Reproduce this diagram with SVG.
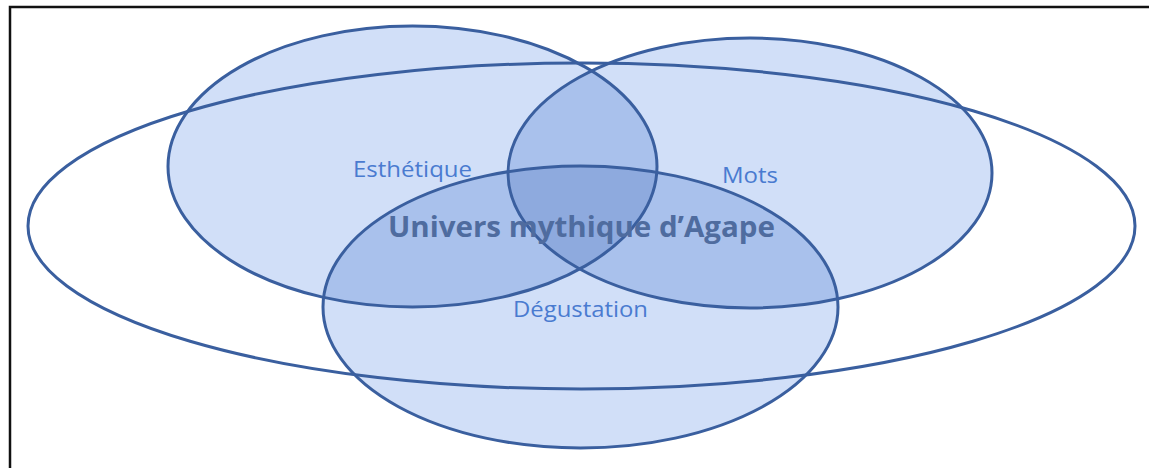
<svg xmlns="http://www.w3.org/2000/svg" width="1149" height="468" viewBox="0 0 1149 468">
  <style>
    .fill1 { fill: #d1dff8; stroke: none; }
    .fill2 { fill: #a9c1ec; stroke: none; }
    .fill3 { fill: #8eaade; stroke: none; }
    .edge { fill: none; stroke: #3a5f9f; stroke-width: 3; }
    .lbl { font-family: "Open Sans", "Liberation Sans", sans-serif; font-size: 21px; fill: #4a7bd0; }
    .title { font-family: "Open Sans", "Liberation Sans", sans-serif; font-size: 28px; font-weight: bold; fill: #4f6c9f; }
  </style>
  <defs>
    <clipPath id="clipE"><ellipse cx="412.5" cy="166.5" rx="244.5" ry="140.5"/></clipPath>
    <clipPath id="clipM"><ellipse cx="750" cy="173" rx="242" ry="135"/></clipPath>
    <clipPath id="clipEM" clip-path="url(#clipE)"><ellipse cx="750" cy="173" rx="242" ry="135"/></clipPath>
  </defs>
  <rect width="1149" height="468" fill="#ffffff"/>
  <rect x="10" y="7" width="1150" height="470" fill="none" stroke="#111111" stroke-width="2.5"/>

  <g id="fills">
    <ellipse class="fill1" cx="412.5" cy="166.5" rx="244.5" ry="140.5"/>
    <ellipse class="fill1" cx="750" cy="173" rx="242" ry="135"/>
    <ellipse class="fill1" cx="580.5" cy="307" rx="257.5" ry="141"/>
    <ellipse class="fill2" cx="750" cy="173" rx="242" ry="135" clip-path="url(#clipE)"/>
    <ellipse class="fill2" cx="580.5" cy="307" rx="257.5" ry="141" clip-path="url(#clipE)"/>
    <ellipse class="fill2" cx="580.5" cy="307" rx="257.5" ry="141" clip-path="url(#clipM)"/>
    <ellipse class="fill3" cx="580.5" cy="307" rx="257.5" ry="141" clip-path="url(#clipEM)"/>
  </g>

  <g id="univers">
    <ellipse class="edge" cx="581.5" cy="226" rx="553.5" ry="163"/>
  </g>
  <g id="esthetique">
    <ellipse class="edge" cx="412.5" cy="166.5" rx="244.5" ry="140.5"/>
    <text class="lbl" x="353" y="177" textLength="119" lengthAdjust="spacingAndGlyphs">Esthétique</text>
  </g>
  <g id="mots">
    <ellipse class="edge" cx="750" cy="173" rx="242" ry="135"/>
    <text class="lbl" x="722" y="183" textLength="56" lengthAdjust="spacingAndGlyphs">Mots</text>
  </g>
  <g id="degustation">
    <ellipse class="edge" cx="580.5" cy="307" rx="257.5" ry="141"/>
    <text class="lbl" x="513" y="317" textLength="135" lengthAdjust="spacingAndGlyphs">Dégustation</text>
  </g>
  <g id="title">
    <text class="title" x="388" y="237" textLength="387" lengthAdjust="spacingAndGlyphs">Univers mythique d’Agape</text>
  </g>
  <g id="connectors"></g>
</svg>
